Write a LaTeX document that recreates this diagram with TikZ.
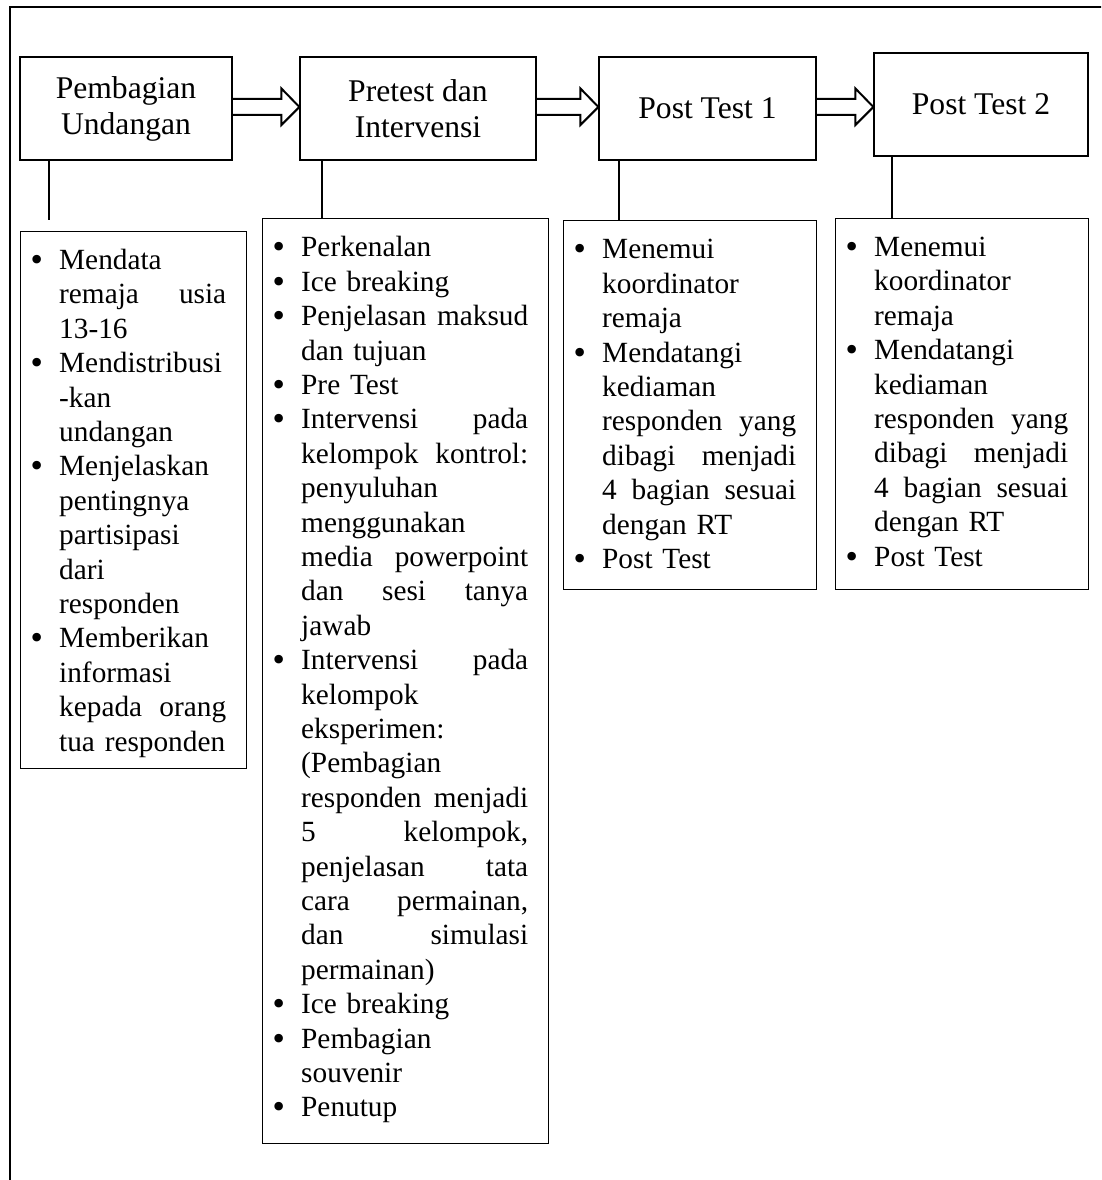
\documentclass[tikz,border=0pt]{standalone}
\usepackage{fontspec}
\setmainfont{Liberation Serif}
\newfontfamily\bulletfont{DejaVu Sans}
\usetikzlibrary{calc}
\newcommand\topfont{\fontsize{31.6}{36}\selectfont}
\newcommand\listfont{\fontsize{29.3}{34.4}\selectfont\parindent=0pt}
\newcommand\bul{\leavevmode\llap{\makebox[10pt][c]{\raisebox{-1pt}{\bulletfont\textbullet}}\hspace{17pt}}}
\newcommand\jl[1]{\leavevmode\hbox to \hsize{#1}}
\newcommand\flowarrow[2]{%
  \draw[flowarr] ($(#1.east)+(0,-9.5)$)
    -- ($(#1.east -| #2.west)+(-18,-9.5)$)
    -- ($(#1.east -| #2.west)+(-18,-20)$)
    -- ($(#1.east -| #2.west)+(0,-1.5)$)
    -- ($(#1.east -| #2.west)+(-18,16.5)$)
    -- ($(#1.east -| #2.west)+(-18,6.5)$)
    -- ($(#1.east)+(0,6.5)$);}
\begin{document}
\begin{tikzpicture}[x=1pt,y=-1pt,
  topbox/.style={draw,line width=1.2pt,minimum width=#1,minimum height=103pt,
    inner sep=0pt,align=center,font=\topfont},
  listbox/.style 2 args={draw,line width=1.2pt,minimum width=#1,minimum height=#2,
    inner sep=0pt,anchor=north west},
  listtext/.style={text width=#1,inner sep=0pt,anchor=north west,align=left,font=\listfont},
  conn/.style={line width=1.6pt},
  flowarr/.style={line width=2pt,line join=miter}]
\useasboundingbox (0,0) rectangle (1101,1180);
\clip (0,0) rectangle (1101,1180);
% outer frame
\draw[line width=2.5pt] (10,7) rectangle (1130,1210);
% top boxes
\node[topbox=212pt] (A) at (126,108.5) {Pembagian\\Undangan};
\node[topbox=236pt] (B) at (418,108.5) {Pretest dan\\Intervensi};
\node[topbox=217pt] (C) at (707.5,108.5) {Post Test 1};
\node[topbox=214pt] (D) at (981,104.5) {Post Test 2};
% arrows
\flowarrow{A}{B}
\flowarrow{B}{C}
\flowarrow{C}{D}
% list boxes
\node[listbox={226pt}{537pt}] (A2) at (20,231) {};
\node[listbox={286pt}{925pt}] (B2) at (262,218) {};
\node[listbox={253pt}{369pt}] (C2) at (563,220) {};
\node[listbox={253pt}{371pt}] (D2) at (835,218) {};
% connectors
\coordinate (Aend) at (49,220);
\coordinate (bx) at (322,0);
\coordinate (cx) at (619,0);
\coordinate (dx) at (892,0);
\draw[conn] (A.south -| Aend) -- (Aend);
\draw[conn] (B.south -| bx) -- (B2.north -| bx);
\draw[conn] (C.south -| cx) -- (C2.north -| cx);
\draw[conn] (D.south -| dx) -- (D2.north -| dx);
% list texts
\node[listtext=167pt] (A2t) at ($(A2.north west)+(39,14.2)$) {%
\strut\bul Mendata\\
\jl{remaja\hfill usia}\\
13-16\\
\bul Mendistribusi\\
-kan\\
undangan\\
\bul Menjelaskan\\
pentingnya\\
partisipasi\\
dari\\
responden\\
\bul Memberikan\\
informasi\\
\jl{kepada\hfill orang}\\
tua responden};
\node[listtext=227pt] (B2t) at ($(B2.north west)+(39,14.7)$) {%
\strut\bul Perkenalan\\
\bul Ice breaking\\
\bul\jl{Penjelasan\hfill maksud}\\
dan tujuan\\
\bul Pre Test\\
\bul\jl{Intervensi\hfill pada}\\
\jl{kelompok\hfill kontrol:}\\
penyuluhan\\
menggunakan\\
\jl{media\hfill powerpoint}\\
\jl{dan\hfill sesi\hfill tanya}\\
jawab\\
\bul\jl{Intervensi\hfill pada}\\
kelompok\\
eksperimen:\\
(Pembagian\\
\jl{responden\hfill menjadi}\\
\jl{5\hfill kelompok,}\\
\jl{penjelasan\hfill tata}\\
\jl{cara\hfill permainan,}\\
\jl{dan\hfill simulasi}\\
permainan)\\
\bul Ice breaking\\
\bul Pembagian\\
souvenir\\
\bul Penutup};
\node[listtext=194pt] (C2t) at ($(C2.north west)+(39,14.7)$) {%
\strut\bul Menemui\\
koordinator\\
remaja\\
\bul Mendatangi\\
kediaman\\
\jl{responden\hfill yang}\\
\jl{dibagi\hfill menjadi}\\
\jl{4\hfill bagian\hfill sesuai}\\
dengan RT\\
\bul Post Test};
\node[listtext=194pt] (D2t) at ($(D2.north west)+(39,14.2)$) {%
\strut\bul Menemui\\
koordinator\\
remaja\\
\bul Mendatangi\\
kediaman\\
\jl{responden\hfill yang}\\
\jl{dibagi\hfill menjadi}\\
\jl{4\hfill bagian\hfill sesuai}\\
dengan RT\\
\bul Post Test};
\end{tikzpicture}
\end{document}
